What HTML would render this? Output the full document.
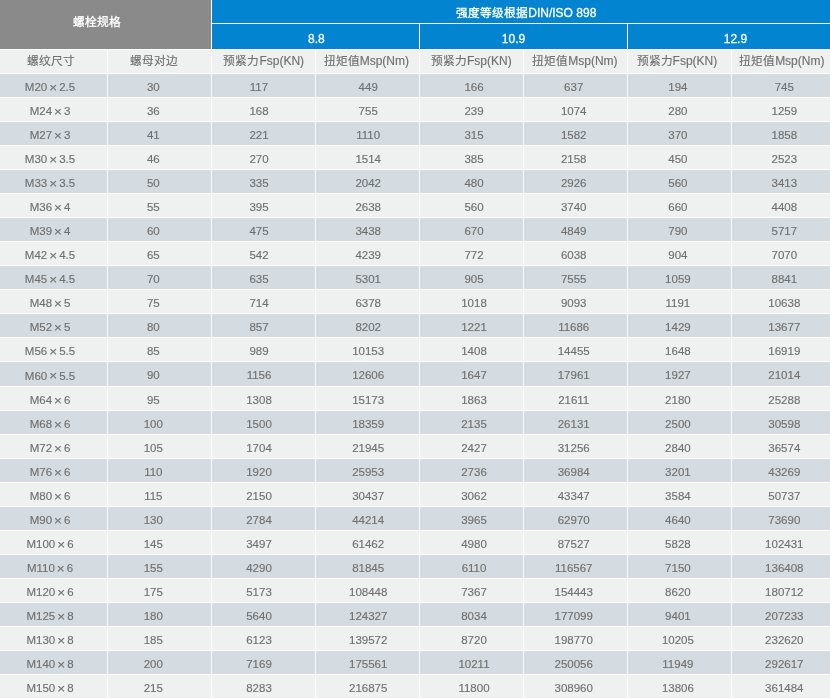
<!DOCTYPE html>
<html lang="zh-CN"><head><meta charset="utf-8"><style>
html,body{margin:0;padding:0;background:#fff;}
body{width:830px;height:699px;position:relative;overflow:hidden;font-family:"Liberation Sans",sans-serif;}
.c{position:absolute;display:flex;align-items:center;justify-content:center;font-size:11.5px;white-space:nowrap;}
.h{font-size:12px;-webkit-text-stroke:0.3px currentColor;}
.d,.s{-webkit-text-stroke:0.15px currentColor;}
.s{font-size:12px;}
.s .k{font-size:11.7px;}
.h .k{-webkit-text-stroke:0.3px currentColor;}
#t{position:absolute;left:0;top:0;width:830px;height:699px;background:#fff;will-change:transform;}
.x{margin:0 2px;font-size:13.5px;position:relative;top:0.5px;}
.k{font-size:11.7px;-webkit-text-stroke:0.15px currentColor;}
</style></head><body><div id="t">
<div class="c h" style="left:0px;top:0px;width:211px;height:49px;background:#8a8a8a;color:#fff;"><span style="position:relative;left:-8.6px;top:-4.5px"><span class="k">螺栓规格</span></span></div>
<div class="c h" style="left:212px;top:0px;width:618px;height:23px;background:#0284d0;color:#fff;"><span style="position:relative;left:5.3px;top:0px"><span class="k">强度等级根据</span>DIN/ISO 898</span></div>
<div class="c h" style="left:212px;top:24px;width:207px;height:25px;background:#0284d0;color:#fff;"><span style="position:relative;left:0.9px;top:2.9px">8.8</span></div>
<div class="c h" style="left:420px;top:24px;width:207px;height:25px;background:#0284d0;color:#fff;"><span style="position:relative;left:-10px;top:2.9px">10.9</span></div>
<div class="c h" style="left:628px;top:24px;width:202px;height:25px;background:#0284d0;color:#fff;"><span style="position:relative;left:6.4px;top:2.9px">12.9</span></div>
<div class="c s" style="left:0px;top:50px;width:107px;height:23px;background:#eff0f0;color:#707070;"><span style="position:relative;left:-2.3px;top:-1.8px"><span class="k">螺纹尺寸</span></span></div>
<div class="c s" style="left:108px;top:50px;width:103px;height:23px;background:#eff0f0;color:#707070;"><span style="position:relative;left:-5.3px;top:-1.8px"><span class="k">螺母对边</span></span></div>
<div class="c s" style="left:212px;top:50px;width:103px;height:23px;background:#eff0f0;color:#707070;"><span style="position:relative;left:0.3px;top:-1.8px"><span class="k">预紧力</span>Fsp(KN)</span></div>
<div class="c s" style="left:316px;top:50px;width:103px;height:23px;background:#eff0f0;color:#707070;"><span style="position:relative;left:-1.2px;top:-1.8px"><span class="k">扭矩值</span>Msp(Nm)</span></div>
<div class="c s" style="left:420px;top:50px;width:103px;height:23px;background:#eff0f0;color:#707070;"><span style="position:relative;left:-0.2px;top:-1.8px"><span class="k">预紧力</span>Fsp(KN)</span></div>
<div class="c s" style="left:524px;top:50px;width:103px;height:23px;background:#eff0f0;color:#707070;"><span style="position:relative;left:-0.6px;top:-1.8px"><span class="k">扭矩值</span>Msp(Nm)</span></div>
<div class="c s" style="left:628px;top:50px;width:103px;height:23px;background:#eff0f0;color:#707070;"><span style="position:relative;left:-2.6px;top:-1.8px"><span class="k">预紧力</span>Fsp(KN)</span></div>
<div class="c s" style="left:732px;top:50px;width:98px;height:23px;background:#eff0f0;color:#707070;"><span style="position:relative;left:0.8px;top:-1.8px"><span class="k">扭矩值</span>Msp(Nm)</span></div>
<div class="c d" style="left:0px;top:74px;width:107px;height:23px;background:#d5dce1;color:#707070;"><span style="position:relative;left:-3.5px;top:1px">M20<span class="x">×</span>2.5</span></div>
<div class="c d" style="left:108px;top:74px;width:103px;height:23px;background:#d5dce1;color:#707070;"><span style="position:relative;left:-6.2px;top:1px">30</span></div>
<div class="c d" style="left:212px;top:74px;width:103px;height:23px;background:#d5dce1;color:#707070;"><span style="position:relative;left:-4.5px;top:1px">117</span></div>
<div class="c d" style="left:316px;top:74px;width:103px;height:23px;background:#d5dce1;color:#707070;"><span style="position:relative;left:0.7px;top:1px">449</span></div>
<div class="c d" style="left:420px;top:74px;width:103px;height:23px;background:#d5dce1;color:#707070;"><span style="position:relative;left:2.5px;top:1px">166</span></div>
<div class="c d" style="left:524px;top:74px;width:103px;height:23px;background:#d5dce1;color:#707070;"><span style="position:relative;left:-1.8px;top:1px">637</span></div>
<div class="c d" style="left:628px;top:74px;width:103px;height:23px;background:#d5dce1;color:#707070;"><span style="position:relative;left:-1.6px;top:1px">194</span></div>
<div class="c d" style="left:732px;top:74px;width:98px;height:23px;background:#d5dce1;color:#707070;"><span style="position:relative;left:3.3px;top:1px">745</span></div>
<div class="c d" style="left:0px;top:98px;width:107px;height:23px;background:#eff0f0;color:#707070;"><span style="position:relative;left:-3.5px;top:1px">M24<span class="x">×</span>3</span></div>
<div class="c d" style="left:108px;top:98px;width:103px;height:23px;background:#eff0f0;color:#707070;"><span style="position:relative;left:-6.2px;top:1px">36</span></div>
<div class="c d" style="left:212px;top:98px;width:103px;height:23px;background:#eff0f0;color:#707070;"><span style="position:relative;left:-4.5px;top:1px">168</span></div>
<div class="c d" style="left:316px;top:98px;width:103px;height:23px;background:#eff0f0;color:#707070;"><span style="position:relative;left:0.7px;top:1px">755</span></div>
<div class="c d" style="left:420px;top:98px;width:103px;height:23px;background:#eff0f0;color:#707070;"><span style="position:relative;left:2.5px;top:1px">239</span></div>
<div class="c d" style="left:524px;top:98px;width:103px;height:23px;background:#eff0f0;color:#707070;"><span style="position:relative;left:-1.8px;top:1px">1074</span></div>
<div class="c d" style="left:628px;top:98px;width:103px;height:23px;background:#eff0f0;color:#707070;"><span style="position:relative;left:-1.6px;top:1px">280</span></div>
<div class="c d" style="left:732px;top:98px;width:98px;height:23px;background:#eff0f0;color:#707070;"><span style="position:relative;left:3.3px;top:1px">1259</span></div>
<div class="c d" style="left:0px;top:122px;width:107px;height:23px;background:#d5dce1;color:#707070;"><span style="position:relative;left:-3.5px;top:1px">M27<span class="x">×</span>3</span></div>
<div class="c d" style="left:108px;top:122px;width:103px;height:23px;background:#d5dce1;color:#707070;"><span style="position:relative;left:-6.2px;top:1px">41</span></div>
<div class="c d" style="left:212px;top:122px;width:103px;height:23px;background:#d5dce1;color:#707070;"><span style="position:relative;left:-4.5px;top:1px">221</span></div>
<div class="c d" style="left:316px;top:122px;width:103px;height:23px;background:#d5dce1;color:#707070;"><span style="position:relative;left:0.7px;top:1px">1110</span></div>
<div class="c d" style="left:420px;top:122px;width:103px;height:23px;background:#d5dce1;color:#707070;"><span style="position:relative;left:2.5px;top:1px">315</span></div>
<div class="c d" style="left:524px;top:122px;width:103px;height:23px;background:#d5dce1;color:#707070;"><span style="position:relative;left:-1.8px;top:1px">1582</span></div>
<div class="c d" style="left:628px;top:122px;width:103px;height:23px;background:#d5dce1;color:#707070;"><span style="position:relative;left:-1.6px;top:1px">370</span></div>
<div class="c d" style="left:732px;top:122px;width:98px;height:23px;background:#d5dce1;color:#707070;"><span style="position:relative;left:3.3px;top:1px">1858</span></div>
<div class="c d" style="left:0px;top:146px;width:107px;height:23px;background:#eff0f0;color:#707070;"><span style="position:relative;left:-3.5px;top:1px">M30<span class="x">×</span>3.5</span></div>
<div class="c d" style="left:108px;top:146px;width:103px;height:23px;background:#eff0f0;color:#707070;"><span style="position:relative;left:-6.2px;top:1px">46</span></div>
<div class="c d" style="left:212px;top:146px;width:103px;height:23px;background:#eff0f0;color:#707070;"><span style="position:relative;left:-4.5px;top:1px">270</span></div>
<div class="c d" style="left:316px;top:146px;width:103px;height:23px;background:#eff0f0;color:#707070;"><span style="position:relative;left:0.7px;top:1px">1514</span></div>
<div class="c d" style="left:420px;top:146px;width:103px;height:23px;background:#eff0f0;color:#707070;"><span style="position:relative;left:2.5px;top:1px">385</span></div>
<div class="c d" style="left:524px;top:146px;width:103px;height:23px;background:#eff0f0;color:#707070;"><span style="position:relative;left:-1.8px;top:1px">2158</span></div>
<div class="c d" style="left:628px;top:146px;width:103px;height:23px;background:#eff0f0;color:#707070;"><span style="position:relative;left:-1.6px;top:1px">450</span></div>
<div class="c d" style="left:732px;top:146px;width:98px;height:23px;background:#eff0f0;color:#707070;"><span style="position:relative;left:3.3px;top:1px">2523</span></div>
<div class="c d" style="left:0px;top:170px;width:107px;height:23px;background:#d5dce1;color:#707070;"><span style="position:relative;left:-3.5px;top:1px">M33<span class="x">×</span>3.5</span></div>
<div class="c d" style="left:108px;top:170px;width:103px;height:23px;background:#d5dce1;color:#707070;"><span style="position:relative;left:-6.2px;top:1px">50</span></div>
<div class="c d" style="left:212px;top:170px;width:103px;height:23px;background:#d5dce1;color:#707070;"><span style="position:relative;left:-4.5px;top:1px">335</span></div>
<div class="c d" style="left:316px;top:170px;width:103px;height:23px;background:#d5dce1;color:#707070;"><span style="position:relative;left:0.7px;top:1px">2042</span></div>
<div class="c d" style="left:420px;top:170px;width:103px;height:23px;background:#d5dce1;color:#707070;"><span style="position:relative;left:2.5px;top:1px">480</span></div>
<div class="c d" style="left:524px;top:170px;width:103px;height:23px;background:#d5dce1;color:#707070;"><span style="position:relative;left:-1.8px;top:1px">2926</span></div>
<div class="c d" style="left:628px;top:170px;width:103px;height:23px;background:#d5dce1;color:#707070;"><span style="position:relative;left:-1.6px;top:1px">560</span></div>
<div class="c d" style="left:732px;top:170px;width:98px;height:23px;background:#d5dce1;color:#707070;"><span style="position:relative;left:3.3px;top:1px">3413</span></div>
<div class="c d" style="left:0px;top:194px;width:107px;height:23px;background:#eff0f0;color:#707070;"><span style="position:relative;left:-3.5px;top:1px">M36<span class="x">×</span>4</span></div>
<div class="c d" style="left:108px;top:194px;width:103px;height:23px;background:#eff0f0;color:#707070;"><span style="position:relative;left:-6.2px;top:1px">55</span></div>
<div class="c d" style="left:212px;top:194px;width:103px;height:23px;background:#eff0f0;color:#707070;"><span style="position:relative;left:-4.5px;top:1px">395</span></div>
<div class="c d" style="left:316px;top:194px;width:103px;height:23px;background:#eff0f0;color:#707070;"><span style="position:relative;left:0.7px;top:1px">2638</span></div>
<div class="c d" style="left:420px;top:194px;width:103px;height:23px;background:#eff0f0;color:#707070;"><span style="position:relative;left:2.5px;top:1px">560</span></div>
<div class="c d" style="left:524px;top:194px;width:103px;height:23px;background:#eff0f0;color:#707070;"><span style="position:relative;left:-1.8px;top:1px">3740</span></div>
<div class="c d" style="left:628px;top:194px;width:103px;height:23px;background:#eff0f0;color:#707070;"><span style="position:relative;left:-1.6px;top:1px">660</span></div>
<div class="c d" style="left:732px;top:194px;width:98px;height:23px;background:#eff0f0;color:#707070;"><span style="position:relative;left:3.3px;top:1px">4408</span></div>
<div class="c d" style="left:0px;top:218px;width:107px;height:23px;background:#d5dce1;color:#707070;"><span style="position:relative;left:-3.5px;top:1px">M39<span class="x">×</span>4</span></div>
<div class="c d" style="left:108px;top:218px;width:103px;height:23px;background:#d5dce1;color:#707070;"><span style="position:relative;left:-6.2px;top:1px">60</span></div>
<div class="c d" style="left:212px;top:218px;width:103px;height:23px;background:#d5dce1;color:#707070;"><span style="position:relative;left:-4.5px;top:1px">475</span></div>
<div class="c d" style="left:316px;top:218px;width:103px;height:23px;background:#d5dce1;color:#707070;"><span style="position:relative;left:0.7px;top:1px">3438</span></div>
<div class="c d" style="left:420px;top:218px;width:103px;height:23px;background:#d5dce1;color:#707070;"><span style="position:relative;left:2.5px;top:1px">670</span></div>
<div class="c d" style="left:524px;top:218px;width:103px;height:23px;background:#d5dce1;color:#707070;"><span style="position:relative;left:-1.8px;top:1px">4849</span></div>
<div class="c d" style="left:628px;top:218px;width:103px;height:23px;background:#d5dce1;color:#707070;"><span style="position:relative;left:-1.6px;top:1px">790</span></div>
<div class="c d" style="left:732px;top:218px;width:98px;height:23px;background:#d5dce1;color:#707070;"><span style="position:relative;left:3.3px;top:1px">5717</span></div>
<div class="c d" style="left:0px;top:242px;width:107px;height:23px;background:#eff0f0;color:#707070;"><span style="position:relative;left:-3.5px;top:1px">M42<span class="x">×</span>4.5</span></div>
<div class="c d" style="left:108px;top:242px;width:103px;height:23px;background:#eff0f0;color:#707070;"><span style="position:relative;left:-6.2px;top:1px">65</span></div>
<div class="c d" style="left:212px;top:242px;width:103px;height:23px;background:#eff0f0;color:#707070;"><span style="position:relative;left:-4.5px;top:1px">542</span></div>
<div class="c d" style="left:316px;top:242px;width:103px;height:23px;background:#eff0f0;color:#707070;"><span style="position:relative;left:0.7px;top:1px">4239</span></div>
<div class="c d" style="left:420px;top:242px;width:103px;height:23px;background:#eff0f0;color:#707070;"><span style="position:relative;left:2.5px;top:1px">772</span></div>
<div class="c d" style="left:524px;top:242px;width:103px;height:23px;background:#eff0f0;color:#707070;"><span style="position:relative;left:-1.8px;top:1px">6038</span></div>
<div class="c d" style="left:628px;top:242px;width:103px;height:23px;background:#eff0f0;color:#707070;"><span style="position:relative;left:-1.6px;top:1px">904</span></div>
<div class="c d" style="left:732px;top:242px;width:98px;height:23px;background:#eff0f0;color:#707070;"><span style="position:relative;left:3.3px;top:1px">7070</span></div>
<div class="c d" style="left:0px;top:266px;width:107px;height:23px;background:#d5dce1;color:#707070;"><span style="position:relative;left:-3.5px;top:1px">M45<span class="x">×</span>4.5</span></div>
<div class="c d" style="left:108px;top:266px;width:103px;height:23px;background:#d5dce1;color:#707070;"><span style="position:relative;left:-6.2px;top:1px">70</span></div>
<div class="c d" style="left:212px;top:266px;width:103px;height:23px;background:#d5dce1;color:#707070;"><span style="position:relative;left:-4.5px;top:1px">635</span></div>
<div class="c d" style="left:316px;top:266px;width:103px;height:23px;background:#d5dce1;color:#707070;"><span style="position:relative;left:0.7px;top:1px">5301</span></div>
<div class="c d" style="left:420px;top:266px;width:103px;height:23px;background:#d5dce1;color:#707070;"><span style="position:relative;left:2.5px;top:1px">905</span></div>
<div class="c d" style="left:524px;top:266px;width:103px;height:23px;background:#d5dce1;color:#707070;"><span style="position:relative;left:-1.8px;top:1px">7555</span></div>
<div class="c d" style="left:628px;top:266px;width:103px;height:23px;background:#d5dce1;color:#707070;"><span style="position:relative;left:-1.6px;top:1px">1059</span></div>
<div class="c d" style="left:732px;top:266px;width:98px;height:23px;background:#d5dce1;color:#707070;"><span style="position:relative;left:3.3px;top:1px">8841</span></div>
<div class="c d" style="left:0px;top:290px;width:107px;height:23px;background:#eff0f0;color:#707070;"><span style="position:relative;left:-3.5px;top:1px">M48<span class="x">×</span>5</span></div>
<div class="c d" style="left:108px;top:290px;width:103px;height:23px;background:#eff0f0;color:#707070;"><span style="position:relative;left:-6.2px;top:1px">75</span></div>
<div class="c d" style="left:212px;top:290px;width:103px;height:23px;background:#eff0f0;color:#707070;"><span style="position:relative;left:-4.5px;top:1px">714</span></div>
<div class="c d" style="left:316px;top:290px;width:103px;height:23px;background:#eff0f0;color:#707070;"><span style="position:relative;left:0.7px;top:1px">6378</span></div>
<div class="c d" style="left:420px;top:290px;width:103px;height:23px;background:#eff0f0;color:#707070;"><span style="position:relative;left:2.5px;top:1px">1018</span></div>
<div class="c d" style="left:524px;top:290px;width:103px;height:23px;background:#eff0f0;color:#707070;"><span style="position:relative;left:-1.8px;top:1px">9093</span></div>
<div class="c d" style="left:628px;top:290px;width:103px;height:23px;background:#eff0f0;color:#707070;"><span style="position:relative;left:-1.6px;top:1px">1191</span></div>
<div class="c d" style="left:732px;top:290px;width:98px;height:23px;background:#eff0f0;color:#707070;"><span style="position:relative;left:3.3px;top:1px">10638</span></div>
<div class="c d" style="left:0px;top:314px;width:107px;height:23px;background:#d5dce1;color:#707070;"><span style="position:relative;left:-3.5px;top:1px">M52<span class="x">×</span>5</span></div>
<div class="c d" style="left:108px;top:314px;width:103px;height:23px;background:#d5dce1;color:#707070;"><span style="position:relative;left:-6.2px;top:1px">80</span></div>
<div class="c d" style="left:212px;top:314px;width:103px;height:23px;background:#d5dce1;color:#707070;"><span style="position:relative;left:-4.5px;top:1px">857</span></div>
<div class="c d" style="left:316px;top:314px;width:103px;height:23px;background:#d5dce1;color:#707070;"><span style="position:relative;left:0.7px;top:1px">8202</span></div>
<div class="c d" style="left:420px;top:314px;width:103px;height:23px;background:#d5dce1;color:#707070;"><span style="position:relative;left:2.5px;top:1px">1221</span></div>
<div class="c d" style="left:524px;top:314px;width:103px;height:23px;background:#d5dce1;color:#707070;"><span style="position:relative;left:-1.8px;top:1px">11686</span></div>
<div class="c d" style="left:628px;top:314px;width:103px;height:23px;background:#d5dce1;color:#707070;"><span style="position:relative;left:-1.6px;top:1px">1429</span></div>
<div class="c d" style="left:732px;top:314px;width:98px;height:23px;background:#d5dce1;color:#707070;"><span style="position:relative;left:3.3px;top:1px">13677</span></div>
<div class="c d" style="left:0px;top:338px;width:107px;height:23px;background:#eff0f0;color:#707070;"><span style="position:relative;left:-3.5px;top:1px">M56<span class="x">×</span>5.5</span></div>
<div class="c d" style="left:108px;top:338px;width:103px;height:23px;background:#eff0f0;color:#707070;"><span style="position:relative;left:-6.2px;top:1px">85</span></div>
<div class="c d" style="left:212px;top:338px;width:103px;height:23px;background:#eff0f0;color:#707070;"><span style="position:relative;left:-4.5px;top:1px">989</span></div>
<div class="c d" style="left:316px;top:338px;width:103px;height:23px;background:#eff0f0;color:#707070;"><span style="position:relative;left:0.7px;top:1px">10153</span></div>
<div class="c d" style="left:420px;top:338px;width:103px;height:23px;background:#eff0f0;color:#707070;"><span style="position:relative;left:2.5px;top:1px">1408</span></div>
<div class="c d" style="left:524px;top:338px;width:103px;height:23px;background:#eff0f0;color:#707070;"><span style="position:relative;left:-1.8px;top:1px">14455</span></div>
<div class="c d" style="left:628px;top:338px;width:103px;height:23px;background:#eff0f0;color:#707070;"><span style="position:relative;left:-1.6px;top:1px">1648</span></div>
<div class="c d" style="left:732px;top:338px;width:98px;height:23px;background:#eff0f0;color:#707070;"><span style="position:relative;left:3.3px;top:1px">16919</span></div>
<div class="c d" style="left:0px;top:362px;width:107px;height:24px;background:#d5dce1;color:#707070;"><span style="position:relative;left:-3.5px;top:1px">M60<span class="x">×</span>5.5</span></div>
<div class="c d" style="left:108px;top:362px;width:103px;height:24px;background:#d5dce1;color:#707070;"><span style="position:relative;left:-6.2px;top:1px">90</span></div>
<div class="c d" style="left:212px;top:362px;width:103px;height:24px;background:#d5dce1;color:#707070;"><span style="position:relative;left:-4.5px;top:1px">1156</span></div>
<div class="c d" style="left:316px;top:362px;width:103px;height:24px;background:#d5dce1;color:#707070;"><span style="position:relative;left:0.7px;top:1px">12606</span></div>
<div class="c d" style="left:420px;top:362px;width:103px;height:24px;background:#d5dce1;color:#707070;"><span style="position:relative;left:2.5px;top:1px">1647</span></div>
<div class="c d" style="left:524px;top:362px;width:103px;height:24px;background:#d5dce1;color:#707070;"><span style="position:relative;left:-1.8px;top:1px">17961</span></div>
<div class="c d" style="left:628px;top:362px;width:103px;height:24px;background:#d5dce1;color:#707070;"><span style="position:relative;left:-1.6px;top:1px">1927</span></div>
<div class="c d" style="left:732px;top:362px;width:98px;height:24px;background:#d5dce1;color:#707070;"><span style="position:relative;left:3.3px;top:1px">21014</span></div>
<div class="c d" style="left:0px;top:387px;width:107px;height:23px;background:#eff0f0;color:#707070;"><span style="position:relative;left:-3.5px;top:1px">M64<span class="x">×</span>6</span></div>
<div class="c d" style="left:108px;top:387px;width:103px;height:23px;background:#eff0f0;color:#707070;"><span style="position:relative;left:-6.2px;top:1px">95</span></div>
<div class="c d" style="left:212px;top:387px;width:103px;height:23px;background:#eff0f0;color:#707070;"><span style="position:relative;left:-4.5px;top:1px">1308</span></div>
<div class="c d" style="left:316px;top:387px;width:103px;height:23px;background:#eff0f0;color:#707070;"><span style="position:relative;left:0.7px;top:1px">15173</span></div>
<div class="c d" style="left:420px;top:387px;width:103px;height:23px;background:#eff0f0;color:#707070;"><span style="position:relative;left:2.5px;top:1px">1863</span></div>
<div class="c d" style="left:524px;top:387px;width:103px;height:23px;background:#eff0f0;color:#707070;"><span style="position:relative;left:-1.8px;top:1px">21611</span></div>
<div class="c d" style="left:628px;top:387px;width:103px;height:23px;background:#eff0f0;color:#707070;"><span style="position:relative;left:-1.6px;top:1px">2180</span></div>
<div class="c d" style="left:732px;top:387px;width:98px;height:23px;background:#eff0f0;color:#707070;"><span style="position:relative;left:3.3px;top:1px">25288</span></div>
<div class="c d" style="left:0px;top:411px;width:107px;height:23px;background:#d5dce1;color:#707070;"><span style="position:relative;left:-3.5px;top:1px">M68<span class="x">×</span>6</span></div>
<div class="c d" style="left:108px;top:411px;width:103px;height:23px;background:#d5dce1;color:#707070;"><span style="position:relative;left:-6.2px;top:1px">100</span></div>
<div class="c d" style="left:212px;top:411px;width:103px;height:23px;background:#d5dce1;color:#707070;"><span style="position:relative;left:-4.5px;top:1px">1500</span></div>
<div class="c d" style="left:316px;top:411px;width:103px;height:23px;background:#d5dce1;color:#707070;"><span style="position:relative;left:0.7px;top:1px">18359</span></div>
<div class="c d" style="left:420px;top:411px;width:103px;height:23px;background:#d5dce1;color:#707070;"><span style="position:relative;left:2.5px;top:1px">2135</span></div>
<div class="c d" style="left:524px;top:411px;width:103px;height:23px;background:#d5dce1;color:#707070;"><span style="position:relative;left:-1.8px;top:1px">26131</span></div>
<div class="c d" style="left:628px;top:411px;width:103px;height:23px;background:#d5dce1;color:#707070;"><span style="position:relative;left:-1.6px;top:1px">2500</span></div>
<div class="c d" style="left:732px;top:411px;width:98px;height:23px;background:#d5dce1;color:#707070;"><span style="position:relative;left:3.3px;top:1px">30598</span></div>
<div class="c d" style="left:0px;top:435px;width:107px;height:23px;background:#eff0f0;color:#707070;"><span style="position:relative;left:-3.5px;top:1px">M72<span class="x">×</span>6</span></div>
<div class="c d" style="left:108px;top:435px;width:103px;height:23px;background:#eff0f0;color:#707070;"><span style="position:relative;left:-6.2px;top:1px">105</span></div>
<div class="c d" style="left:212px;top:435px;width:103px;height:23px;background:#eff0f0;color:#707070;"><span style="position:relative;left:-4.5px;top:1px">1704</span></div>
<div class="c d" style="left:316px;top:435px;width:103px;height:23px;background:#eff0f0;color:#707070;"><span style="position:relative;left:0.7px;top:1px">21945</span></div>
<div class="c d" style="left:420px;top:435px;width:103px;height:23px;background:#eff0f0;color:#707070;"><span style="position:relative;left:2.5px;top:1px">2427</span></div>
<div class="c d" style="left:524px;top:435px;width:103px;height:23px;background:#eff0f0;color:#707070;"><span style="position:relative;left:-1.8px;top:1px">31256</span></div>
<div class="c d" style="left:628px;top:435px;width:103px;height:23px;background:#eff0f0;color:#707070;"><span style="position:relative;left:-1.6px;top:1px">2840</span></div>
<div class="c d" style="left:732px;top:435px;width:98px;height:23px;background:#eff0f0;color:#707070;"><span style="position:relative;left:3.3px;top:1px">36574</span></div>
<div class="c d" style="left:0px;top:459px;width:107px;height:23px;background:#d5dce1;color:#707070;"><span style="position:relative;left:-3.5px;top:1px">M76<span class="x">×</span>6</span></div>
<div class="c d" style="left:108px;top:459px;width:103px;height:23px;background:#d5dce1;color:#707070;"><span style="position:relative;left:-6.2px;top:1px">110</span></div>
<div class="c d" style="left:212px;top:459px;width:103px;height:23px;background:#d5dce1;color:#707070;"><span style="position:relative;left:-4.5px;top:1px">1920</span></div>
<div class="c d" style="left:316px;top:459px;width:103px;height:23px;background:#d5dce1;color:#707070;"><span style="position:relative;left:0.7px;top:1px">25953</span></div>
<div class="c d" style="left:420px;top:459px;width:103px;height:23px;background:#d5dce1;color:#707070;"><span style="position:relative;left:2.5px;top:1px">2736</span></div>
<div class="c d" style="left:524px;top:459px;width:103px;height:23px;background:#d5dce1;color:#707070;"><span style="position:relative;left:-1.8px;top:1px">36984</span></div>
<div class="c d" style="left:628px;top:459px;width:103px;height:23px;background:#d5dce1;color:#707070;"><span style="position:relative;left:-1.6px;top:1px">3201</span></div>
<div class="c d" style="left:732px;top:459px;width:98px;height:23px;background:#d5dce1;color:#707070;"><span style="position:relative;left:3.3px;top:1px">43269</span></div>
<div class="c d" style="left:0px;top:483px;width:107px;height:23px;background:#eff0f0;color:#707070;"><span style="position:relative;left:-3.5px;top:1px">M80<span class="x">×</span>6</span></div>
<div class="c d" style="left:108px;top:483px;width:103px;height:23px;background:#eff0f0;color:#707070;"><span style="position:relative;left:-6.2px;top:1px">115</span></div>
<div class="c d" style="left:212px;top:483px;width:103px;height:23px;background:#eff0f0;color:#707070;"><span style="position:relative;left:-4.5px;top:1px">2150</span></div>
<div class="c d" style="left:316px;top:483px;width:103px;height:23px;background:#eff0f0;color:#707070;"><span style="position:relative;left:0.7px;top:1px">30437</span></div>
<div class="c d" style="left:420px;top:483px;width:103px;height:23px;background:#eff0f0;color:#707070;"><span style="position:relative;left:2.5px;top:1px">3062</span></div>
<div class="c d" style="left:524px;top:483px;width:103px;height:23px;background:#eff0f0;color:#707070;"><span style="position:relative;left:-1.8px;top:1px">43347</span></div>
<div class="c d" style="left:628px;top:483px;width:103px;height:23px;background:#eff0f0;color:#707070;"><span style="position:relative;left:-1.6px;top:1px">3584</span></div>
<div class="c d" style="left:732px;top:483px;width:98px;height:23px;background:#eff0f0;color:#707070;"><span style="position:relative;left:3.3px;top:1px">50737</span></div>
<div class="c d" style="left:0px;top:507px;width:107px;height:23px;background:#d5dce1;color:#707070;"><span style="position:relative;left:-3.5px;top:1px">M90<span class="x">×</span>6</span></div>
<div class="c d" style="left:108px;top:507px;width:103px;height:23px;background:#d5dce1;color:#707070;"><span style="position:relative;left:-6.2px;top:1px">130</span></div>
<div class="c d" style="left:212px;top:507px;width:103px;height:23px;background:#d5dce1;color:#707070;"><span style="position:relative;left:-4.5px;top:1px">2784</span></div>
<div class="c d" style="left:316px;top:507px;width:103px;height:23px;background:#d5dce1;color:#707070;"><span style="position:relative;left:0.7px;top:1px">44214</span></div>
<div class="c d" style="left:420px;top:507px;width:103px;height:23px;background:#d5dce1;color:#707070;"><span style="position:relative;left:2.5px;top:1px">3965</span></div>
<div class="c d" style="left:524px;top:507px;width:103px;height:23px;background:#d5dce1;color:#707070;"><span style="position:relative;left:-1.8px;top:1px">62970</span></div>
<div class="c d" style="left:628px;top:507px;width:103px;height:23px;background:#d5dce1;color:#707070;"><span style="position:relative;left:-1.6px;top:1px">4640</span></div>
<div class="c d" style="left:732px;top:507px;width:98px;height:23px;background:#d5dce1;color:#707070;"><span style="position:relative;left:3.3px;top:1px">73690</span></div>
<div class="c d" style="left:0px;top:531px;width:107px;height:23px;background:#eff0f0;color:#707070;"><span style="position:relative;left:-3.5px;top:1px">M100<span class="x">×</span>6</span></div>
<div class="c d" style="left:108px;top:531px;width:103px;height:23px;background:#eff0f0;color:#707070;"><span style="position:relative;left:-6.2px;top:1px">145</span></div>
<div class="c d" style="left:212px;top:531px;width:103px;height:23px;background:#eff0f0;color:#707070;"><span style="position:relative;left:-4.5px;top:1px">3497</span></div>
<div class="c d" style="left:316px;top:531px;width:103px;height:23px;background:#eff0f0;color:#707070;"><span style="position:relative;left:0.7px;top:1px">61462</span></div>
<div class="c d" style="left:420px;top:531px;width:103px;height:23px;background:#eff0f0;color:#707070;"><span style="position:relative;left:2.5px;top:1px">4980</span></div>
<div class="c d" style="left:524px;top:531px;width:103px;height:23px;background:#eff0f0;color:#707070;"><span style="position:relative;left:-1.8px;top:1px">87527</span></div>
<div class="c d" style="left:628px;top:531px;width:103px;height:23px;background:#eff0f0;color:#707070;"><span style="position:relative;left:-1.6px;top:1px">5828</span></div>
<div class="c d" style="left:732px;top:531px;width:98px;height:23px;background:#eff0f0;color:#707070;"><span style="position:relative;left:3.3px;top:1px">102431</span></div>
<div class="c d" style="left:0px;top:555px;width:107px;height:23px;background:#d5dce1;color:#707070;"><span style="position:relative;left:-3.5px;top:1px">M110<span class="x">×</span>6</span></div>
<div class="c d" style="left:108px;top:555px;width:103px;height:23px;background:#d5dce1;color:#707070;"><span style="position:relative;left:-6.2px;top:1px">155</span></div>
<div class="c d" style="left:212px;top:555px;width:103px;height:23px;background:#d5dce1;color:#707070;"><span style="position:relative;left:-4.5px;top:1px">4290</span></div>
<div class="c d" style="left:316px;top:555px;width:103px;height:23px;background:#d5dce1;color:#707070;"><span style="position:relative;left:0.7px;top:1px">81845</span></div>
<div class="c d" style="left:420px;top:555px;width:103px;height:23px;background:#d5dce1;color:#707070;"><span style="position:relative;left:2.5px;top:1px">6110</span></div>
<div class="c d" style="left:524px;top:555px;width:103px;height:23px;background:#d5dce1;color:#707070;"><span style="position:relative;left:-1.8px;top:1px">116567</span></div>
<div class="c d" style="left:628px;top:555px;width:103px;height:23px;background:#d5dce1;color:#707070;"><span style="position:relative;left:-1.6px;top:1px">7150</span></div>
<div class="c d" style="left:732px;top:555px;width:98px;height:23px;background:#d5dce1;color:#707070;"><span style="position:relative;left:3.3px;top:1px">136408</span></div>
<div class="c d" style="left:0px;top:579px;width:107px;height:23px;background:#eff0f0;color:#707070;"><span style="position:relative;left:-3.5px;top:1px">M120<span class="x">×</span>6</span></div>
<div class="c d" style="left:108px;top:579px;width:103px;height:23px;background:#eff0f0;color:#707070;"><span style="position:relative;left:-6.2px;top:1px">175</span></div>
<div class="c d" style="left:212px;top:579px;width:103px;height:23px;background:#eff0f0;color:#707070;"><span style="position:relative;left:-4.5px;top:1px">5173</span></div>
<div class="c d" style="left:316px;top:579px;width:103px;height:23px;background:#eff0f0;color:#707070;"><span style="position:relative;left:0.7px;top:1px">108448</span></div>
<div class="c d" style="left:420px;top:579px;width:103px;height:23px;background:#eff0f0;color:#707070;"><span style="position:relative;left:2.5px;top:1px">7367</span></div>
<div class="c d" style="left:524px;top:579px;width:103px;height:23px;background:#eff0f0;color:#707070;"><span style="position:relative;left:-1.8px;top:1px">154443</span></div>
<div class="c d" style="left:628px;top:579px;width:103px;height:23px;background:#eff0f0;color:#707070;"><span style="position:relative;left:-1.6px;top:1px">8620</span></div>
<div class="c d" style="left:732px;top:579px;width:98px;height:23px;background:#eff0f0;color:#707070;"><span style="position:relative;left:3.3px;top:1px">180712</span></div>
<div class="c d" style="left:0px;top:603px;width:107px;height:23px;background:#d5dce1;color:#707070;"><span style="position:relative;left:-3.5px;top:1px">M125<span class="x">×</span>8</span></div>
<div class="c d" style="left:108px;top:603px;width:103px;height:23px;background:#d5dce1;color:#707070;"><span style="position:relative;left:-6.2px;top:1px">180</span></div>
<div class="c d" style="left:212px;top:603px;width:103px;height:23px;background:#d5dce1;color:#707070;"><span style="position:relative;left:-4.5px;top:1px">5640</span></div>
<div class="c d" style="left:316px;top:603px;width:103px;height:23px;background:#d5dce1;color:#707070;"><span style="position:relative;left:0.7px;top:1px">124327</span></div>
<div class="c d" style="left:420px;top:603px;width:103px;height:23px;background:#d5dce1;color:#707070;"><span style="position:relative;left:2.5px;top:1px">8034</span></div>
<div class="c d" style="left:524px;top:603px;width:103px;height:23px;background:#d5dce1;color:#707070;"><span style="position:relative;left:-1.8px;top:1px">177099</span></div>
<div class="c d" style="left:628px;top:603px;width:103px;height:23px;background:#d5dce1;color:#707070;"><span style="position:relative;left:-1.6px;top:1px">9401</span></div>
<div class="c d" style="left:732px;top:603px;width:98px;height:23px;background:#d5dce1;color:#707070;"><span style="position:relative;left:3.3px;top:1px">207233</span></div>
<div class="c d" style="left:0px;top:627px;width:107px;height:23px;background:#eff0f0;color:#707070;"><span style="position:relative;left:-3.5px;top:1px">M130<span class="x">×</span>8</span></div>
<div class="c d" style="left:108px;top:627px;width:103px;height:23px;background:#eff0f0;color:#707070;"><span style="position:relative;left:-6.2px;top:1px">185</span></div>
<div class="c d" style="left:212px;top:627px;width:103px;height:23px;background:#eff0f0;color:#707070;"><span style="position:relative;left:-4.5px;top:1px">6123</span></div>
<div class="c d" style="left:316px;top:627px;width:103px;height:23px;background:#eff0f0;color:#707070;"><span style="position:relative;left:0.7px;top:1px">139572</span></div>
<div class="c d" style="left:420px;top:627px;width:103px;height:23px;background:#eff0f0;color:#707070;"><span style="position:relative;left:2.5px;top:1px">8720</span></div>
<div class="c d" style="left:524px;top:627px;width:103px;height:23px;background:#eff0f0;color:#707070;"><span style="position:relative;left:-1.8px;top:1px">198770</span></div>
<div class="c d" style="left:628px;top:627px;width:103px;height:23px;background:#eff0f0;color:#707070;"><span style="position:relative;left:-1.6px;top:1px">10205</span></div>
<div class="c d" style="left:732px;top:627px;width:98px;height:23px;background:#eff0f0;color:#707070;"><span style="position:relative;left:3.3px;top:1px">232620</span></div>
<div class="c d" style="left:0px;top:651px;width:107px;height:23px;background:#d5dce1;color:#707070;"><span style="position:relative;left:-3.5px;top:1px">M140<span class="x">×</span>8</span></div>
<div class="c d" style="left:108px;top:651px;width:103px;height:23px;background:#d5dce1;color:#707070;"><span style="position:relative;left:-6.2px;top:1px">200</span></div>
<div class="c d" style="left:212px;top:651px;width:103px;height:23px;background:#d5dce1;color:#707070;"><span style="position:relative;left:-4.5px;top:1px">7169</span></div>
<div class="c d" style="left:316px;top:651px;width:103px;height:23px;background:#d5dce1;color:#707070;"><span style="position:relative;left:0.7px;top:1px">175561</span></div>
<div class="c d" style="left:420px;top:651px;width:103px;height:23px;background:#d5dce1;color:#707070;"><span style="position:relative;left:2.5px;top:1px">10211</span></div>
<div class="c d" style="left:524px;top:651px;width:103px;height:23px;background:#d5dce1;color:#707070;"><span style="position:relative;left:-1.8px;top:1px">250056</span></div>
<div class="c d" style="left:628px;top:651px;width:103px;height:23px;background:#d5dce1;color:#707070;"><span style="position:relative;left:-1.6px;top:1px">11949</span></div>
<div class="c d" style="left:732px;top:651px;width:98px;height:23px;background:#d5dce1;color:#707070;"><span style="position:relative;left:3.3px;top:1px">292617</span></div>
<div class="c d" style="left:0px;top:675px;width:107px;height:23px;background:#eff0f0;color:#707070;"><span style="position:relative;left:-3.5px;top:1px">M150<span class="x">×</span>8</span></div>
<div class="c d" style="left:108px;top:675px;width:103px;height:23px;background:#eff0f0;color:#707070;"><span style="position:relative;left:-6.2px;top:1px">215</span></div>
<div class="c d" style="left:212px;top:675px;width:103px;height:23px;background:#eff0f0;color:#707070;"><span style="position:relative;left:-4.5px;top:1px">8283</span></div>
<div class="c d" style="left:316px;top:675px;width:103px;height:23px;background:#eff0f0;color:#707070;"><span style="position:relative;left:0.7px;top:1px">216875</span></div>
<div class="c d" style="left:420px;top:675px;width:103px;height:23px;background:#eff0f0;color:#707070;"><span style="position:relative;left:2.5px;top:1px">11800</span></div>
<div class="c d" style="left:524px;top:675px;width:103px;height:23px;background:#eff0f0;color:#707070;"><span style="position:relative;left:-1.8px;top:1px">308960</span></div>
<div class="c d" style="left:628px;top:675px;width:103px;height:23px;background:#eff0f0;color:#707070;"><span style="position:relative;left:-1.6px;top:1px">13806</span></div>
<div class="c d" style="left:732px;top:675px;width:98px;height:23px;background:#eff0f0;color:#707070;"><span style="position:relative;left:3.3px;top:1px">361484</span></div>
</div></body></html>
